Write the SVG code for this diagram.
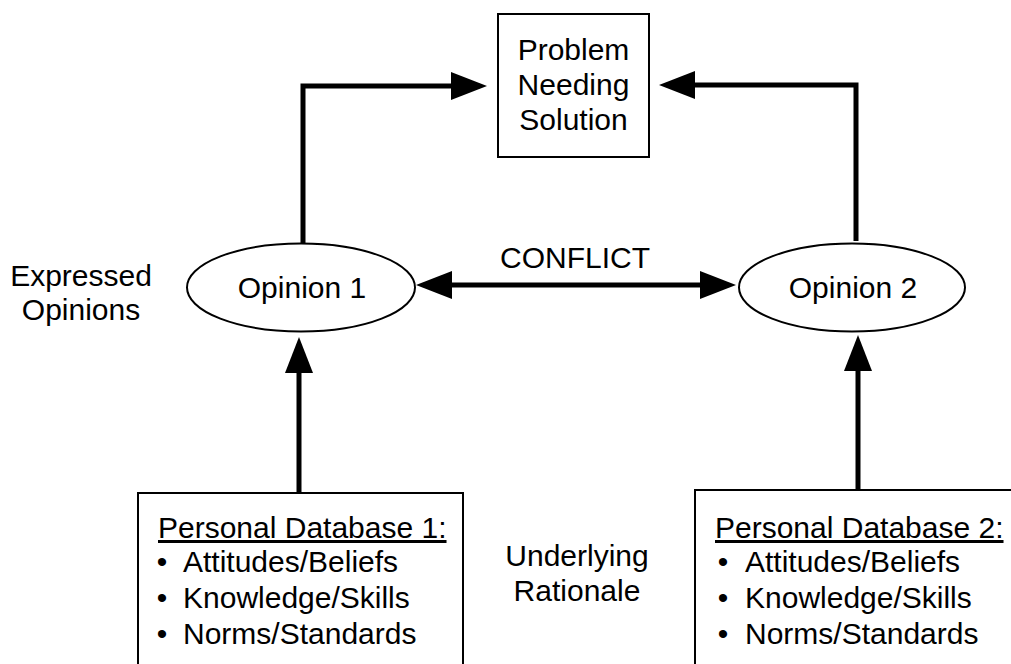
<svg xmlns="http://www.w3.org/2000/svg" width="1011" height="664" viewBox="0 0 1011 664">
<style>
text{font-family:"Liberation Sans",Arial,sans-serif;font-size:30px;fill:#000}
.mid{text-anchor:middle}
.box{fill:#fff;stroke:#000;stroke-width:2}
.conn{fill:none;stroke:#000;stroke-width:5;stroke-linejoin:miter}
</style>
<defs>
<marker id="ah" markerUnits="userSpaceOnUse" markerWidth="37" markerHeight="29" refX="0" refY="14" orient="auto-start-reverse" viewBox="0 0 37 29">
<path d="M0,0 L36,14 L0,28 z" fill="#000"/>
</marker>
</defs>
<rect width="1011" height="664" fill="#fff"/>
<g id="connectors">
<path class="conn" d="M303,243 V86 H451" marker-end="url(#ah)"/>
<path class="conn" d="M856,241 V85 H695" marker-end="url(#ah)"/>
<path class="conn" d="M452,285 H700" marker-start="url(#ah)" marker-end="url(#ah)"/>
<path class="conn" d="M299,493 V373" marker-end="url(#ah)"/>
<path class="conn" d="M858,490 V371" marker-end="url(#ah)"/>
</g>
<g id="problem">
<rect class="box" x="498" y="14" width="151" height="143"/>
<text class="mid" x="573.5" y="60">Problem</text>
<text class="mid" x="573.5" y="95">Needing</text>
<text class="mid" x="573.5" y="130">Solution</text>
</g>
<g id="opinion1">
<ellipse class="box" cx="301" cy="287.5" rx="114" ry="44"/>
<text class="mid" x="302" y="298">Opinion 1</text>
</g>
<g id="opinion2">
<ellipse class="box" cx="852" cy="287.5" rx="113" ry="44"/>
<text class="mid" x="853" y="298">Opinion 2</text>
</g>
<g id="conflict-label">
<text class="mid" x="575" y="268">CONFLICT</text>
</g>
<g id="expressed-label">
<text class="mid" x="81" y="286">Expressed</text>
<text class="mid" x="81" y="320">Opinions</text>
</g>
<g id="rationale-label">
<text class="mid" x="577" y="566">Underlying</text>
<text class="mid" x="577" y="601">Rationale</text>
</g>
<g id="database1">
<rect class="box" x="138" y="493" width="325" height="200"/>
<text x="158" y="538" text-decoration="underline">Personal Database 1:</text>
<text class="mid" x="162" y="572">•</text>
<text x="183" y="572">Attitudes/Beliefs</text>
<text class="mid" x="162" y="608">•</text>
<text x="183" y="608">Knowledge/Skills</text>
<text class="mid" x="162" y="644">•</text>
<text x="183" y="644">Norms/Standards</text>
</g>
<g id="database2">
<rect class="box" x="695" y="490" width="340" height="200"/>
<text x="715" y="538" text-decoration="underline">Personal Database 2:</text>
<text class="mid" x="723" y="572">•</text>
<text x="745" y="572">Attitudes/Beliefs</text>
<text class="mid" x="723" y="608">•</text>
<text x="745" y="608">Knowledge/Skills</text>
<text class="mid" x="723" y="644">•</text>
<text x="745" y="644">Norms/Standards</text>
</g>
</svg>
